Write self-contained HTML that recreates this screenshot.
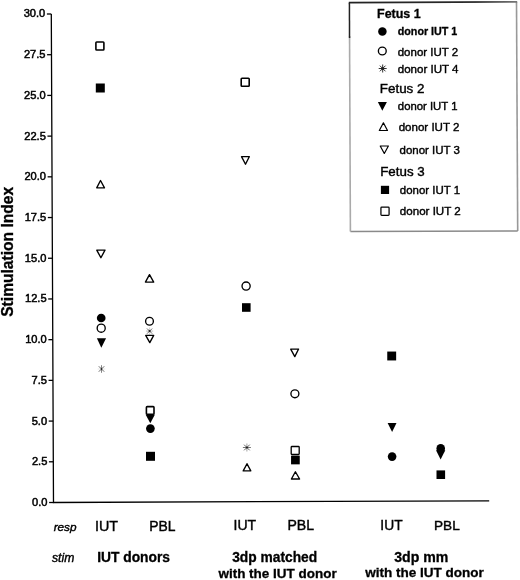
<!DOCTYPE html>
<html><head><meta charset="utf-8"><title>Stimulation Index</title>
<style>
html,body{margin:0;padding:0;background:#fff;}
body{width:520px;height:580px;overflow:hidden;}
svg{display:block;will-change:transform;}
text{font-family:"Liberation Sans",sans-serif;fill:#000;stroke:#000;stroke-width:0.3px;}
.tk{font-size:11.1px;stroke-width:0.5px;}
.yl{font-size:15.6px;font-weight:bold;}
.b{font-weight:bold;}
.r{font-weight:normal;stroke-width:0.4px;}
.i{font-style:italic;stroke-width:0.4px;}
</style></head><body>
<svg width="520" height="580" viewBox="0 0 520 580">
<rect width="520" height="580" fill="#fff"/>
<path d="M51.3 14.0 L53.5 502.5 L489.2 500.8" fill="none" stroke="#000" stroke-width="1.3" stroke-linejoin="miter"/>
<line x1="49.10" y1="502.50" x2="53.50" y2="502.50" stroke="#000" stroke-width="1.3"/>
<text x="47.50" y="505.95" text-anchor="end" class="tk">0.0</text>
<line x1="48.92" y1="461.79" x2="53.32" y2="461.79" stroke="#000" stroke-width="1.3"/>
<text x="47.32" y="465.24" text-anchor="end" class="tk">2.5</text>
<line x1="48.73" y1="421.08" x2="53.13" y2="421.08" stroke="#000" stroke-width="1.3"/>
<text x="47.13" y="424.53" text-anchor="end" class="tk">5.0</text>
<line x1="48.55" y1="380.38" x2="52.95" y2="380.38" stroke="#000" stroke-width="1.3"/>
<text x="46.95" y="383.82" text-anchor="end" class="tk">7.5</text>
<line x1="48.37" y1="339.67" x2="52.77" y2="339.67" stroke="#000" stroke-width="1.3"/>
<text x="46.77" y="343.12" text-anchor="end" class="tk">10.0</text>
<line x1="48.18" y1="298.96" x2="52.58" y2="298.96" stroke="#000" stroke-width="1.3"/>
<text x="46.58" y="302.41" text-anchor="end" class="tk">12.5</text>
<line x1="48.00" y1="258.25" x2="52.40" y2="258.25" stroke="#000" stroke-width="1.3"/>
<text x="46.40" y="261.70" text-anchor="end" class="tk">15.0</text>
<line x1="47.82" y1="217.54" x2="52.22" y2="217.54" stroke="#000" stroke-width="1.3"/>
<text x="46.22" y="220.99" text-anchor="end" class="tk">17.5</text>
<line x1="47.63" y1="176.83" x2="52.03" y2="176.83" stroke="#000" stroke-width="1.3"/>
<text x="46.03" y="180.28" text-anchor="end" class="tk">20.0</text>
<line x1="47.45" y1="136.12" x2="51.85" y2="136.12" stroke="#000" stroke-width="1.3"/>
<text x="45.85" y="139.57" text-anchor="end" class="tk">22.5</text>
<line x1="47.27" y1="95.42" x2="51.67" y2="95.42" stroke="#000" stroke-width="1.3"/>
<text x="45.67" y="98.87" text-anchor="end" class="tk">25.0</text>
<line x1="47.08" y1="54.71" x2="51.48" y2="54.71" stroke="#000" stroke-width="1.3"/>
<text x="45.48" y="58.16" text-anchor="end" class="tk">27.5</text>
<line x1="46.90" y1="14.00" x2="51.30" y2="14.00" stroke="#000" stroke-width="1.3"/>
<text x="45.30" y="17.45" text-anchor="end" class="tk">30.0</text>
<text transform="translate(13.3 251.8) rotate(-90)" text-anchor="middle" class="yl">Stimulation Index</text>
<rect x="95.90" y="42.00" width="8.00" height="8.00" fill="none" stroke="#000" stroke-width="1.6" rx="0.8"/>
<rect x="95.80" y="83.50" width="9.00" height="9.00" fill="#000"/>
<path d="M100.50 180.49 L104.49 187.82 L96.71 187.82Z" fill="none" stroke="#000" stroke-width="1.35" stroke-linejoin="round"/>
<path d="M100.90 257.76 L104.99 250.18 L96.76 250.18Z" fill="none" stroke="#000" stroke-width="1.35" stroke-linejoin="round"/>
<circle cx="101.2" cy="318.0" r="4.35" fill="#000"/>
<circle cx="101.2" cy="328.2" r="4.03" fill="none" stroke="#000" stroke-width="1.35"/>
<path d="M101.30 347.80 L106.10 338.30 L96.90 338.30Z" fill="#000"/>
<path d="M101.50 365.20L101.50 372.80" stroke="#777" stroke-width="0.9" fill="none"/>
<path d="M98.81 366.31L104.19 371.69" stroke="#555" stroke-width="0.9" fill="none"/>
<path d="M104.19 366.31L98.81 371.69" stroke="#555" stroke-width="0.9" fill="none"/>
<path d="M97.70 369.00L105.30 369.00" stroke="#e4e4e4" stroke-width="0.9" fill="none"/>
<circle cx="101.5" cy="369.0" r="0.9" fill="#222"/>
<path d="M149.50 274.59 L153.69 282.12 L145.41 282.12Z" fill="none" stroke="#000" stroke-width="1.35" stroke-linejoin="round"/>
<circle cx="149.5" cy="321.3" r="3.88" fill="none" stroke="#000" stroke-width="1.35"/>
<path d="M146.00 331.10L153.20 331.10" stroke="#bbb" stroke-width="0.9" fill="none"/>
<path d="M149.60 327.50L149.60 334.70" stroke="#ccc" stroke-width="0.9" fill="none"/>
<path d="M147.05 328.55L152.15 333.65" stroke="#555" stroke-width="0.9" fill="none"/>
<path d="M152.15 328.55L147.05 333.65" stroke="#555" stroke-width="0.9" fill="none"/>
<circle cx="149.6" cy="331.1" r="1.0" fill="#222"/>
<path d="M149.80 342.66 L153.69 335.38 L145.71 335.38Z" fill="none" stroke="#000" stroke-width="1.35" stroke-linejoin="round"/>
<rect x="146.40" y="406.60" width="7.60" height="7.60" fill="none" stroke="#000" stroke-width="1.6" rx="0.8"/>
<path d="M150.30 423.30 L154.80 414.80 L145.70 414.80Z" fill="#000"/>
<circle cx="150.4" cy="428.6" r="4.35" fill="#000"/>
<rect x="146.00" y="451.80" width="9.00" height="9.00" fill="#000"/>
<rect x="241.20" y="78.30" width="8.00" height="8.00" fill="none" stroke="#000" stroke-width="1.6" rx="0.8"/>
<path d="M245.50 164.26 L249.29 156.68 L241.51 156.68Z" fill="none" stroke="#000" stroke-width="1.35" stroke-linejoin="round"/>
<circle cx="246.1" cy="286.1" r="4.08" fill="none" stroke="#000" stroke-width="1.35"/>
<rect x="242.00" y="303.20" width="8.60" height="8.60" fill="#000"/>
<path d="M242.90 447.50L250.90 447.50" stroke="#666" stroke-width="0.9" fill="none"/>
<path d="M246.90 443.50L246.90 451.50" stroke="#999" stroke-width="0.9" fill="none"/>
<path d="M244.07 444.67L249.73 450.33" stroke="#555" stroke-width="0.9" fill="none"/>
<path d="M249.73 444.67L244.07 450.33" stroke="#555" stroke-width="0.9" fill="none"/>
<circle cx="246.9" cy="447.5" r="1.1" fill="#222"/>
<path d="M247.00 463.69 L250.79 470.93 L243.21 470.93Z" fill="none" stroke="#000" stroke-width="1.35" stroke-linejoin="round"/>
<path d="M294.80 356.66 L298.59 349.07 L290.71 349.07Z" fill="none" stroke="#000" stroke-width="1.35" stroke-linejoin="round"/>
<circle cx="294.9" cy="393.8" r="3.98" fill="none" stroke="#000" stroke-width="1.35"/>
<rect x="291.20" y="446.50" width="8.00" height="8.00" fill="none" stroke="#000" stroke-width="1.3" rx="0.8"/>
<rect x="291.05" y="455.65" width="8.70" height="8.70" fill="#000"/>
<path d="M295.40 471.74 L299.59 479.02 L291.41 479.02Z" fill="none" stroke="#000" stroke-width="1.35" stroke-linejoin="round"/>
<rect x="387.25" y="351.55" width="8.90" height="8.90" fill="#000"/>
<path d="M392.10 431.90 L396.50 422.90 L387.60 422.90Z" fill="#000"/>
<circle cx="392.1" cy="456.6" r="4.30" fill="#000"/>
<circle cx="440.7" cy="448.4" r="4.30" fill="#000"/>
<path d="M440.60 459.60 L445.30 450.30 L436.00 450.30Z" fill="#000"/>
<rect x="436.50" y="470.40" width="8.60" height="8.60" fill="#000"/>
<path d="M516.5 1.9 L517.7 230.9" stroke="#999" stroke-width="1.6" fill="none"/>
<path d="M517.7 230.9 L350.4 231.4" stroke="#8a8a8a" stroke-width="1.5" fill="none"/>
<path d="M350.4 231.4 L349.55 36" stroke="#aaa" stroke-width="1.6" fill="none"/>
<path d="M349.55 38 L349.4 2.7" stroke="#222" stroke-width="1.5" fill="none"/>
<defs><linearGradient id="tg" x1="0" x2="1" y1="0" y2="0"><stop offset="0" stop-color="#222"/><stop offset="0.75" stop-color="#2a2a2a"/><stop offset="1" stop-color="#777"/></linearGradient></defs>
<path d="M348.8 2.7 L517.2 1.9" stroke="url(#tg)" stroke-width="1.7" fill="none"/>
<circle cx="382.4" cy="31.4" r="4.25" fill="#000"/>
<circle cx="382.3" cy="51.0" r="3.92" fill="none" stroke="#000" stroke-width="1.35"/>
<path d="M378.70 68.50L386.70 68.50" stroke="#333" stroke-width="1.0" fill="none"/>
<path d="M379.87 65.67L385.53 71.33" stroke="#333" stroke-width="1.0" fill="none"/>
<path d="M382.70 64.50L382.70 72.50" stroke="#333" stroke-width="1.0" fill="none"/>
<path d="M385.53 65.67L379.87 71.33" stroke="#333" stroke-width="1.0" fill="none"/>
<circle cx="382.7" cy="68.5" r="1.5" fill="#222"/>
<path d="M382.30 110.80 L386.90 101.90 L377.90 101.90Z" fill="#000"/>
<path d="M383.40 122.80 L387.48 130.50 L379.32 130.50Z" fill="none" stroke="#000" stroke-width="1.2" stroke-linejoin="round"/>
<path d="M384.30 153.45 L388.38 146.00 L380.22 146.00Z" fill="none" stroke="#000" stroke-width="1.2" stroke-linejoin="round"/>
<rect x="380.90" y="185.80" width="8.20" height="8.20" fill="#000"/>
<rect x="380.93" y="207.23" width="8.15" height="8.15" fill="none" stroke="#000" stroke-width="1.25" rx="0.8"/>
<text x="377.05" y="17.8" class="b" style="font-size:12.48px" >Fetus 1</text>
<text x="397.77" y="35.2" class="b" style="font-size:10.73px" >donor IUT 1</text>
<text x="397.74" y="55.5" class="r" style="font-size:11.49px" >donor IUT 2</text>
<text x="397.74" y="73.2" class="r" style="font-size:11.56px" >donor IUT 4</text>
<text x="379.83" y="92.6" class="r" style="font-size:13.37px" >Fetus 2</text>
<text x="397.85" y="110.4" class="r" style="font-size:11.34px" >donor IUT 1</text>
<text x="398.64" y="130.7" class="r" style="font-size:11.57px" >donor IUT 2</text>
<text x="399.54" y="153.5" class="r" style="font-size:11.47px" >donor IUT 3</text>
<text x="380.23" y="175.9" class="r" style="font-size:13.33px" >Fetus 3</text>
<text x="399.84" y="193.7" class="r" style="font-size:11.44px" >donor IUT 1</text>
<text x="399.84" y="215.4" class="r" style="font-size:11.59px" >donor IUT 2</text>
<text x="53.63" y="530.8" class="i" style="font-size:11.79px" >resp</text>
<text x="94.91" y="530.6" class="r" style="font-size:14.33px" >IUT</text>
<text x="149.29" y="530.6" class="r" style="font-size:13.9px" >PBL</text>
<text x="233.54" y="530.2" class="r" style="font-size:14.0px" >IUT</text>
<text x="287.47" y="530.2" class="r" style="font-size:14.07px" >PBL</text>
<text x="380.36" y="529.8" class="r" style="font-size:13.8px" >IUT</text>
<text x="434.01" y="529.8" class="r" style="font-size:13.62px" >PBL</text>
<text x="52.0" y="562.4" class="i" style="font-size:12.15px" >stim</text>
<text x="97.17" y="562.4" class="b" style="font-size:13.8px" >IUT donors</text>
<text x="232.22" y="561.8" class="b" style="font-size:13.78px" >3dp matched</text>
<text x="218.43" y="577.5" class="b" style="font-size:13.47px" >with the IUT donor</text>
<text x="394.22" y="561.7" class="b" style="font-size:14.12px" >3dp mm</text>
<text x="365.14" y="576.8" class="b" style="font-size:13.53px" >with the IUT donor</text>
</svg>
</body></html>
